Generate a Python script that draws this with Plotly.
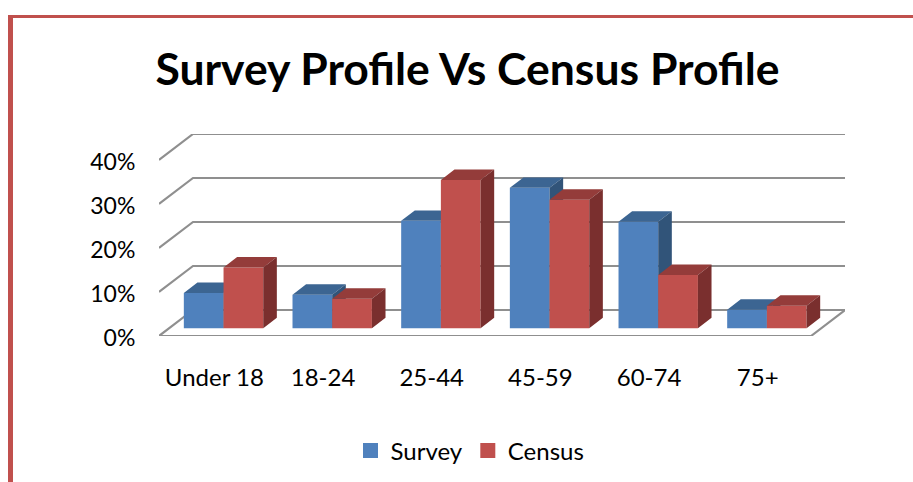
import plotly.graph_objects as go

categories = ["Under 18", "18-24", "25-44", "45-59", "60-74", "75+"]
survey = [8.0, 7.6, 24.4, 31.9, 24.2, 4.2]
census = [13.8, 6.7, 33.7, 29.2, 12.1, 5.1]
y_ticks = [0, 10, 20, 30, 40]
y_labels = ["0%", "10%", "20%", "30%", "40%"]

W, H = 913, 482
L, R, T, B = 159, 845, 134, 336
PX_X = 108.67     # pixels per category
PX_Y = 4.4        # pixels per percent
DX = 34 / PX_X    # depth of the chart, data units
DY = 26 / PX_Y
BAR = 39.7 / PX_X
GAP = (1 - 2 * BAR) / 2
FRONT, DEPTH = 0.3, 0.4
FONT = "Lato"

BLUE, BLUE_TOP, BLUE_SIDE = "#4F81BD", "#3C6592", "#315479"
RED, RED_TOP, RED_SIDE = "#C0504D", "#943C3A", "#7A2F2E"
GRID = "#8F8F8F"
BORDER = "#C0504D"


def faces(values, slot):
    """Top and side polygons of the boxes of one series, from its values."""
    x0 = FRONT * DX
    y0 = FRONT * DY
    ox, oy = DEPTH * DX, DEPTH * DY
    top_x, top_y, side_x, side_y = [], [], [], []
    for i, v in enumerate(values):
        a = i + GAP + slot * BAR + x0
        b = a + BAR
        h = y0 + v
        top_x += [a, b, b + ox, a + ox, a, None]
        top_y += [h, h, h + oy, h + oy, h, None]
        side_x += [b, b + ox, b + ox, b, b, None]
        side_y += [y0, y0 + oy, h + oy, h, y0, None]
    return top_x, top_y, side_x, side_y


def add_series(fig, values, slot, name, front, top, side, axis):
    xa, ya = f"x{axis}", f"y{axis}"
    y0 = FRONT * DY
    xs = [i + GAP + slot * BAR + BAR / 2 + FRONT * DX for i in range(len(values))]
    fig.add_trace(go.Bar(x=xs, y=values, base=[y0] * len(values), width=BAR,
                         marker=dict(color=front, line=dict(width=0)),
                         showlegend=False, name=name, xaxis=xa, yaxis=ya))
    tx, ty, sx, sy = faces(values, slot)
    for px, py, col in ((tx, ty, top), (sx, sy, side)):
        fig.add_trace(go.Scatter(x=px, y=py, mode="lines", fill="toself", fillcolor=col,
                                 line=dict(width=0, color=col), hoverinfo="skip",
                                 showlegend=False, xaxis=xa, yaxis=ya, cliponaxis=False))


fig = go.Figure()

# Wall gridlines: front edge, oblique to the back wall, then along the wall
n = len(categories)
gx, gy = [], []
for v in y_ticks:
    gx += [0, DX, n + DX, None]
    gy += [v, v + DY, v + DY, None]
gx += [0, n, n + DX]
gy += [0, 0, DY]
fig.add_trace(go.Scatter(x=gx, y=gy, mode="lines", line=dict(color=GRID, width=2.2),
                         showlegend=False, hoverinfo="skip", cliponaxis=False))

add_series(fig, survey, 0, "Survey", BLUE, BLUE_TOP, BLUE_SIDE, 2)
add_series(fig, census, 1, "Census", RED, RED_TOP, RED_SIDE, 3)

# Legend keys
for name, col in (("Survey", BLUE), ("Census", RED)):
    fig.add_trace(go.Scatter(x=[None], y=[None], mode="markers", name=name,
                             marker=dict(symbol="square", size=15, color=col)))

x_range = [0, (R - L) / PX_X]
y_range = [0, (B - T) / PX_Y]
hidden = dict(visible=False, fixedrange=True)

fig.update_layout(
    width=W, height=H,
    margin=dict(l=L, r=W - R, t=T, b=H - B, autoexpand=False),
    paper_bgcolor="white", plot_bgcolor="white",
    barmode="overlay",
    font=dict(family=FONT, color="#000000", size=23),
    title=dict(text="<b>Survey Profile Vs Census Profile</b>",
               font=dict(family=FONT, size=44.5, color="#000000"),
               x=467.5 / W, xanchor="center", xref="container",
               y=1 - 69 / H, yanchor="middle", yref="container"),
    xaxis=dict(range=x_range, tickvals=[i + 0.5 for i in range(n)], ticktext=categories,
               showgrid=False, zeroline=False, showline=False, ticks="outside",
               ticklen=20, tickcolor="rgba(0,0,0,0)", fixedrange=True,
               tickfont=dict(size=24), ticklabelshift=1),
    yaxis=dict(range=y_range, tickvals=y_ticks, ticktext=y_labels,
               showgrid=False, zeroline=False, showline=False, ticks="outside",
               ticklen=18, tickcolor="rgba(0,0,0,0)", fixedrange=True,
               ticklabelshift=2),
    xaxis2=dict(range=x_range, overlaying="x", **hidden),
    yaxis2=dict(range=y_range, overlaying="y", **hidden),
    xaxis3=dict(range=x_range, overlaying="x", **hidden),
    yaxis3=dict(range=y_range, overlaying="y", **hidden),
    legend=dict(orientation="h", x=470 / W, xanchor="center", xref="container",
                y=1 - 451 / H, yanchor="middle", yref="container",
                font=dict(size=24), itemsizing="trace", bgcolor="rgba(0,0,0,0)"),
    shapes=[
        dict(type="rect", xref="paper", yref="paper", layer="above",
             x0=(8 - L) / (R - L), x1=(13 - L) / (R - L),
             y0=(B - H) / (B - T), y1=(B - 15) / (B - T),
             fillcolor=BORDER, line=dict(width=0)),
        dict(type="rect", xref="paper", yref="paper", layer="above",
             x0=(8 - L) / (R - L), x1=(W - L) / (R - L),
             y0=(B - 18) / (B - T), y1=(B - 15) / (B - T),
             fillcolor=BORDER, line=dict(width=0)),
    ],
)

fig.write_html("out.html", config={"displayModeBar": False},
               post_script="document.body.style.margin='0';document.body.style.overflow='hidden';")
